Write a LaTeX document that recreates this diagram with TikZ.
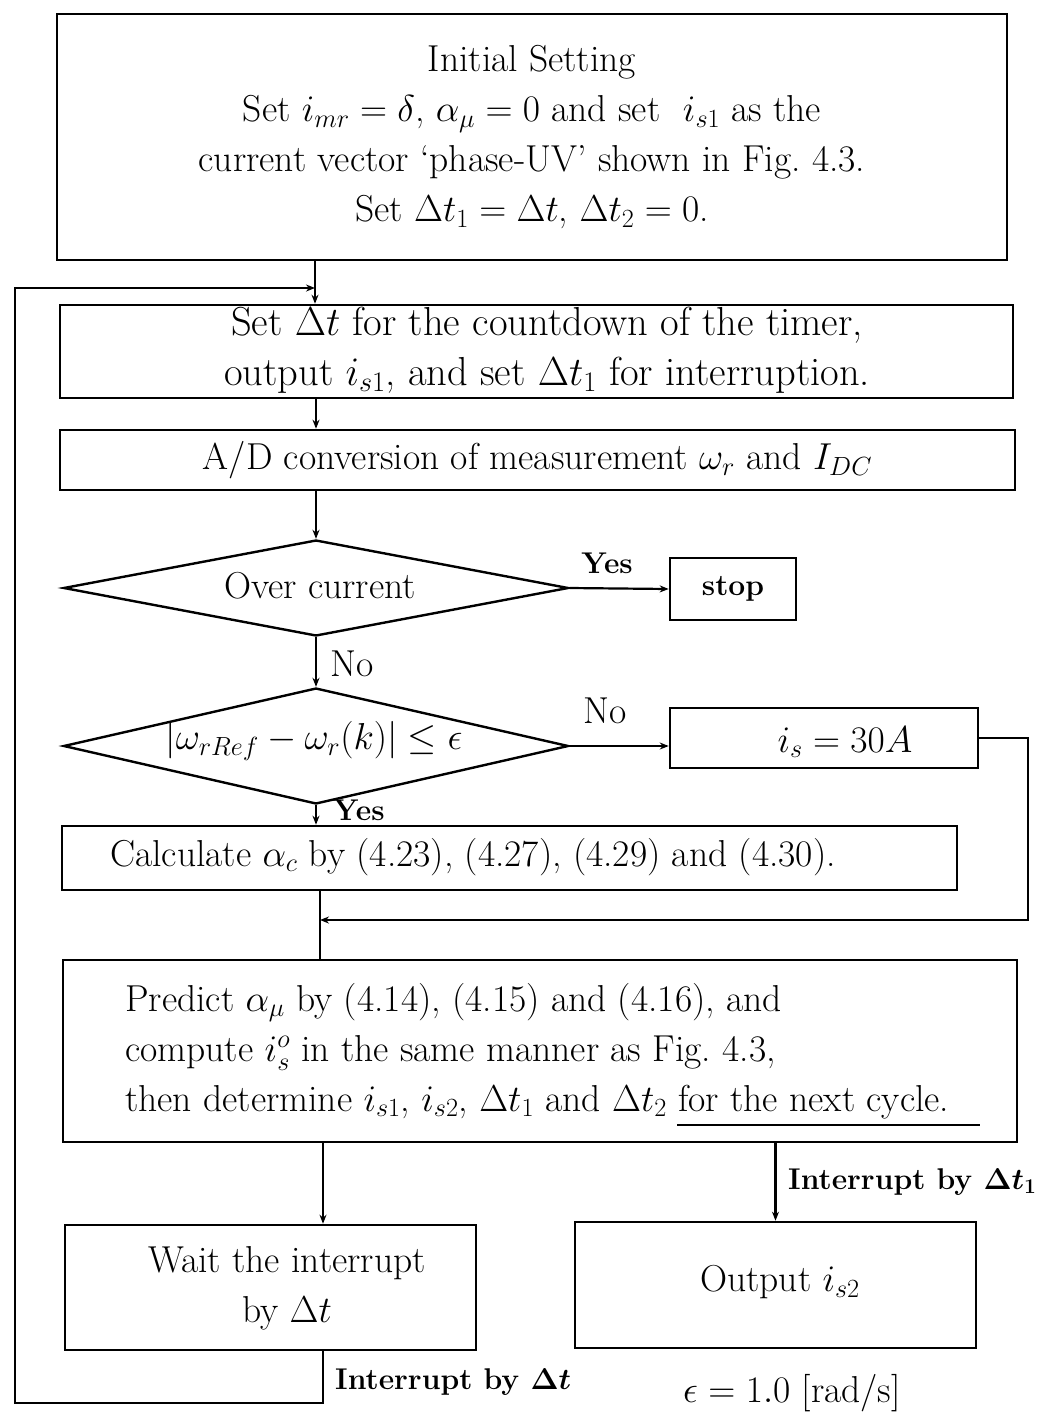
\RequirePackage{fix-cm}
\documentclass[tikz,border=0pt]{standalone}
\usepackage{amsmath}
\usetikzlibrary{shapes.geometric,arrows.meta,calc}
\newcommand\fsz{\fontsize{37.5}{50}\selectfont}
\newcommand\fszw{\fontsize{40.5}{50}\selectfont}
\newcommand\fszb{\fontsize{30}{44}\selectfont\bfseries\boldmath}
\begin{document}
\begin{tikzpicture}[x=1pt,y=-1pt,
  box/.style={draw, line width=2.6pt, inner sep=0pt, font=\fsz, align=center},
  dia/.style={draw, diamond, line width=2.4pt, inner sep=0pt, aspect=5},
  conn/.style={line width=2.2pt, -{Stealth[length=9pt,width=7pt]}},
  plain/.style={line width=2.2pt},
  txt/.style={font=\fsz, inner sep=0pt},
  lbl/.style={font=\fszb, inner sep=0pt}]
\useasboundingbox (0,0) rectangle (1047,1414);

% boxes
\node[box, minimum width=950pt, minimum height=246pt] (init) at (532,137)
  {Initial Setting\\ Set $i_{mr}=\delta$, $\alpha_\mu=0$ and set \ $i_{s1}$ as the\\
   current vector `phase-UV' shown in Fig.~4.3.\\ Set $\Delta t_1=\Delta t$, $\Delta t_2=0$.};
\node[box, minimum width=953pt, minimum height=93pt] (set) at (536.5,351.5) {};
\node[txt, align=center, font=\fszw] (settxt) at (547,350)
  {Set $\Delta t$ for the countdown of the timer,\\ output $i_{s1}$, and set $\Delta t_1$ for interruption.};
\node[box, minimum width=955pt, minimum height=60pt] (ad) at (537.5,460)
  {A/D conversion of measurement $\omega_r$ and $I_{DC}$};
\node[dia, minimum width=505pt, minimum height=96pt] (d1) at (316,588) {};
\node[txt] (d1t) at (320,586) {Over current};
\node[box, minimum width=126pt, minimum height=62pt, font=\fszb] (stop) at (733,589) {stop};
\node[dia, minimum width=505pt, minimum height=116pt] (d2) at (316,746) {};
\node[txt] (d2t) at (314,741) {$|\omega_{rRef}-\omega_r(k)|\le\epsilon$};
\node[box, minimum width=308pt, minimum height=60pt] (is) at (824,738) {};
\node[txt] (ist) at (845,742) {$i_s=30A$};
\node[box, minimum width=895pt, minimum height=64pt] (calc) at (509.5,858) {};
\node[txt] (calct) at (473,857) {Calculate $\alpha_c$ by (4.23), (4.27), (4.29) and (4.30).};
\node[box, minimum width=954pt, minimum height=182pt] (pred) at (540,1051) {};
\node[txt, anchor=west, align=left] (predt) at (125,1051)
  {Predict $\alpha_\mu$ by (4.14), (4.15) and (4.16), and\\
   compute $i_s^o$ in the same manner as Fig.~4.3,\\
   then determine $i_{s1}$, $i_{s2}$, $\Delta t_1$ and $\Delta t_2$ for the next cycle.};
\node[box, minimum width=411pt, minimum height=125pt] (wait) at (270.5,1287.5) {};
\node[txt, align=center] (waitt) at (287,1288) {Wait the interrupt\\ by $\Delta t$};
\node[box, minimum width=401pt, minimum height=126pt] (out) at (775.5,1285) {};
\node[txt] (outt) at (780,1282) {Output $i_{s2}$};

% underline
\draw[line width=2pt] (677,1125) -- (980,1125);

% coordinates
\coordinate (j1) at (315,288);
\coordinate (j2) at (320,920);
\coordinate (lb) at (15,1403);

% connectors
\draw[plain] (init.south -| j1) -- (j1);
\draw[conn] (j1) -- (set.north -| j1);
\draw[conn] (set.south -| 316,0) -- (ad.north -| 316,0);
\draw[conn] (ad.south -| d1.north) -- (d1.north);
\draw[conn] (d1.east) -- (stop.west);
\draw[conn] (d1.south) -- (d2.north);
\draw[conn] (d2.east) -- (d2.east -| is.west);
\draw[conn] (d2.south) -- (calc.north -| d2.south);
\draw[plain] (calc.south -| j2) -- (pred.north -| j2);
\draw[conn] (is.east) -- ++(49,0) |- (j2);
\draw[conn] (pred.south -| 323,0) -- (wait.north -| 323,0);
\draw[conn] (pred.south -| out.north) -- (out.north);
\draw[conn] (wait.south -| 323,0) |- (lb) |- (j1);

% labels
\node[lbl] (yes1) at (607,563) {Yes};
\node[lbl, anchor=west, font=\fsz] (no1) at (330,664) {No};
\node[lbl, font=\fsz] (no2) at (605,711) {No};
\node[lbl, anchor=west] (yes2) at (333,810) {Yes};
\node[lbl, anchor=west] (int1) at (788,1182) {Interrupt by $\Delta t_1$};
\node[lbl, anchor=west] (int2) at (335,1382) {Interrupt by $\Delta t$};
\node[txt] (eps) at (792,1393) {$\epsilon=1.0$ [rad/s]};
\end{tikzpicture}
\end{document}
